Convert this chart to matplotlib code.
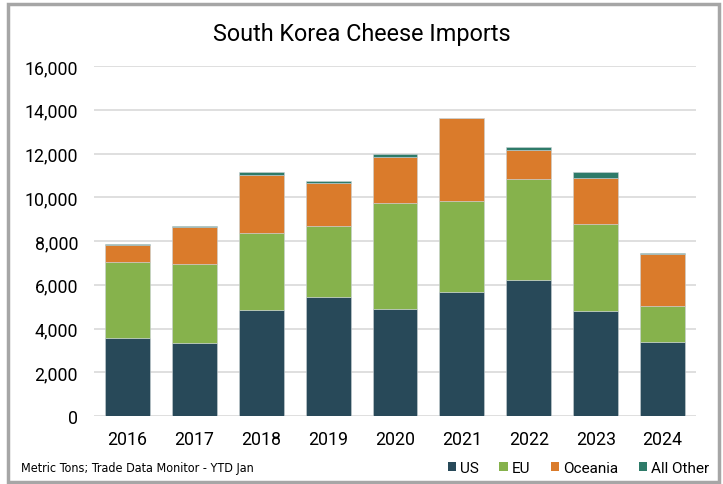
import matplotlib
matplotlib.use("Agg")
import matplotlib.pyplot as plt
from matplotlib.patches import Patch, Rectangle
from matplotlib.font_manager import FontProperties
import numpy as np

years = ["2016", "2017", "2018", "2019", "2020", "2021", "2022", "2023", "2024"]
us = [3560, 3360, 4850, 5440, 4870, 5680, 6210, 4820, 3370]
eu = [3460, 3590, 3530, 3260, 4855, 4170, 4640, 3970, 1670]
oceania = [820, 1710, 2640, 1970, 2120, 3760, 1300, 2090, 2370]
other = [30, 30, 150, 75, 110, 30, 170, 280, 45]

series = [("US", us, "#284959"), ("EU", eu, "#86B24C"),
          ("Oceania", oceania, "#DA7B2B"), ("All Other", other, "#2E7B69")]

plt.rcParams['font.family'] = ['Roboto', 'DejaVu Sans']

fig = plt.figure(figsize=(7.23, 4.85), dpi=100)
ax = fig.add_axes([94/723, 1-417/485, 602/723, 350/485])

x = np.arange(len(years))
bottom = np.zeros(len(years))
for name, vals, col in series:
    v = np.array(vals, dtype=float)
    ax.bar(x, v, bottom=bottom, width=0.67, color=col, label=name,
           edgecolor='#c8d0d4', linewidth=0.4, zorder=3)
    bottom += v

ax.set_xlim(-0.5, len(years) - 0.5)
ax.set_ylim(0, 16000)
ax.set_yticks(np.arange(0, 16001, 2000))
ax.set_yticklabels([f"{int(t):,}" for t in np.arange(0, 16001, 2000)])
ax.set_xticks(x)
ax.set_xticklabels(years)
ax.tick_params(axis='both', length=0, labelsize=12.8, colors='#000000')
ax.tick_params(axis='y', pad=11.5)
ax.tick_params(axis='x', pad=10)
ax.grid(axis='y', color='#d9d9d9', linewidth=1.2, zorder=0)
for s in ax.spines.values():
    s.set_visible(False)

fig.text(0.5, 1-35/485, "South Korea Cheese Imports", ha='center', va='center',
         fontsize=16.8)

cond_small = FontProperties(family=['DejaVu Sans'], stretch='condensed', size=9)
leg_font = FontProperties(family=['Roboto', 'DejaVu Sans'], size=11)

fig.text(21/723, 1-469/485, "Metric Tons; Trade Data Monitor - YTD Jan",
         ha='left', va='center', fontproperties=cond_small)

handles = [Patch(facecolor=c, label=n) for n, _, c in series]
fig.legend(handles=handles, loc='center right', bbox_to_anchor=(709/723, 1-469/485),
           ncol=4, frameon=False, handlelength=0.55, handleheight=0.55,
           handletextpad=0.25, columnspacing=1.35, borderaxespad=0, borderpad=0,
           prop=leg_font)

fig.patches.append(Rectangle((8/723, 1-483/485), 711/723, 478/485, transform=fig.transFigure,
                             fill=False, edgecolor='#a6a6a6', linewidth=2.5))

fig.savefig("out.png", dpi=100)
